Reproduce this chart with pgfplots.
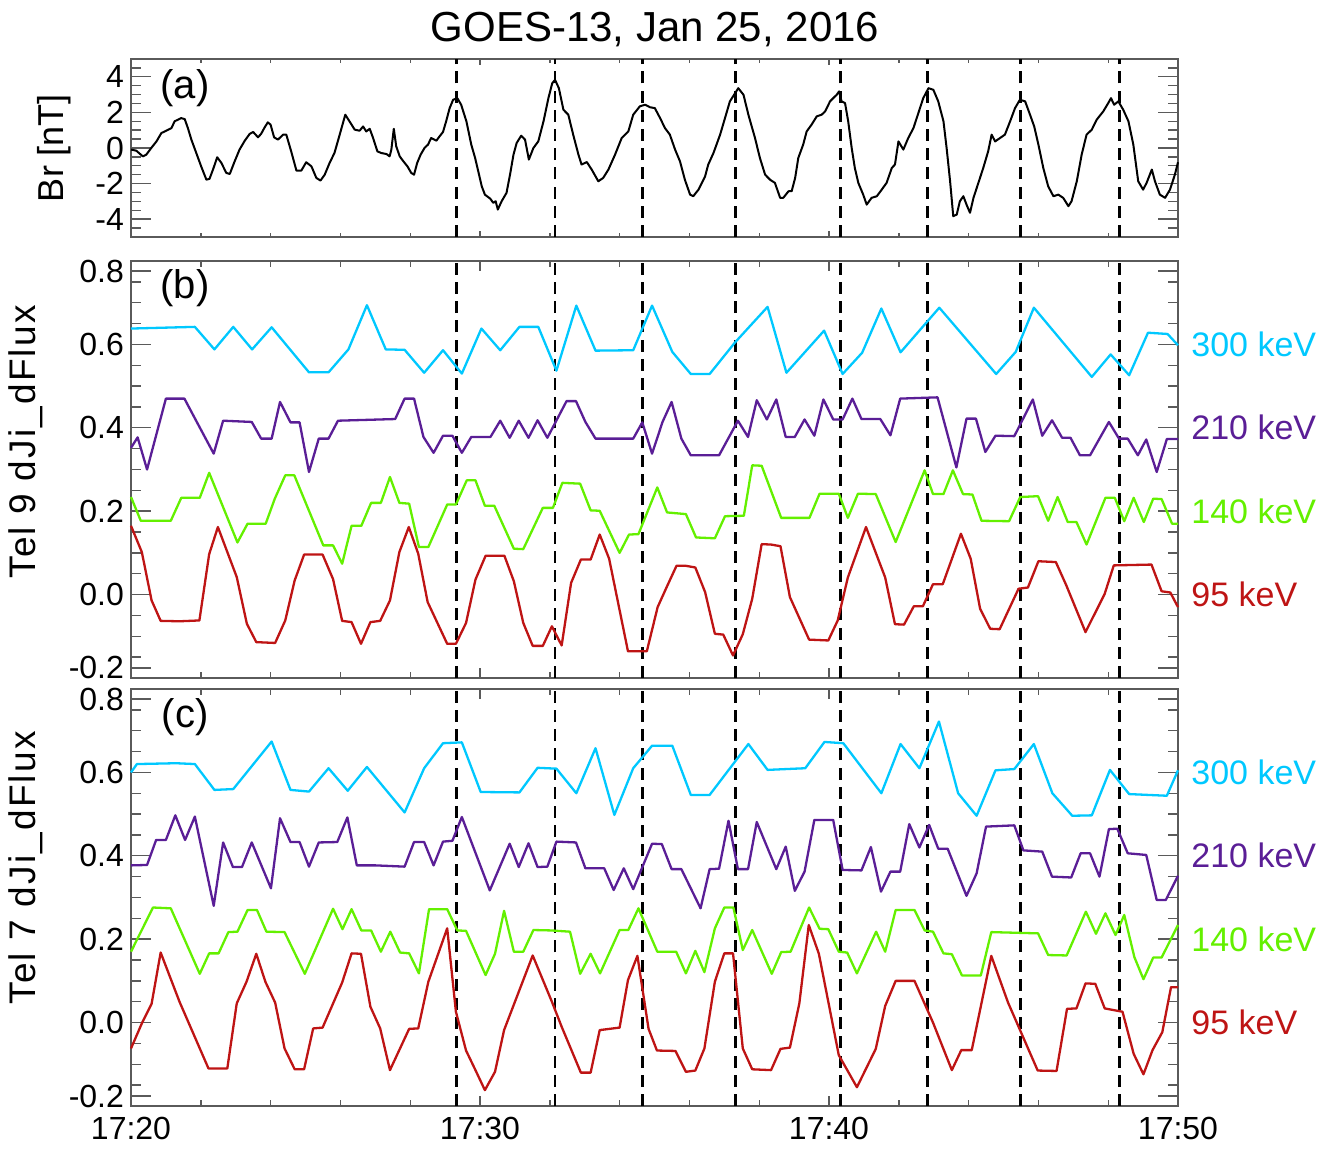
\documentclass[border=0pt]{standalone}
\usepackage{fontspec}
\setmainfont{Liberation Sans}
\usepackage{pgfplots}
\pgfplotsset{compat=1.18}
\definecolor{cA}{RGB}{0,200,255}
\definecolor{cB}{RGB}{90,30,150}
\definecolor{cC}{RGB}{100,240,0}
\definecolor{cD}{RGB}{190,20,20}
\definecolor{frm}{RGB}{90,90,90}
\newfontfamily\ylabfont[LetterSpace=6]{Liberation Sans}
\tikzset{
  lab/.style={anchor=west, inner sep=0pt, xshift=6.5pt, font=\fontsize{17}{20}\selectfont},
  plab/.style={font=\fontsize{20}{24}\selectfont},
}
\pgfplotsset{
  panel/.style={
    scale only axis, width=523.5pt, xmin=20, xmax=50,
    clip=false, anchor=north west,
    xtick={20,30,40,50}, minor x tick num=4,
    axis line style={frm, line width=0.7pt},
    tick style={frm, line width=0.7pt},
    xtick style={/pgfplots/major tick length=5pt,/pgfplots/minor tick length=3pt},
    ytick style={/pgfplots/major tick length=10pt,/pgfplots/minor tick length=5pt},
    tick label style={font=\fontsize{16}{19}\selectfont, text=black},
    xticklabels={},
  },
  flux/.style={
    panel, height=208.5pt, ymin=-0.2, ymax=0.8,
    ytick={-0.2,0,0.2,0.4,0.6,0.8}, minor y tick num=3,
    yticklabels={,0.0,0.2,0.4,0.6,},
    extra y ticks={-0.176,0.776}, extra y tick labels={-0.2,0.8},
    extra y tick style={/pgfplots/major tick length=0pt},
  },
  dl/.style={black, line width=1.4pt, dash pattern=on 6pt off 3.6pt},
  ser/.style={line width=1.15pt, line join=round, mark=none},
}
\newcommand{\vlines}[2]{%
  \addplot[dl] coordinates {(29.32,#1) (29.32,#2)};
  \addplot[dl] coordinates {(32.15,#1) (32.15,#2)};
  \addplot[dl] coordinates {(34.66,#1) (34.66,#2)};
  \addplot[dl] coordinates {(37.32,#1) (37.32,#2)};
  \addplot[dl] coordinates {(40.32,#1) (40.32,#2)};
  \addplot[dl] coordinates {(42.83,#1) (42.83,#2)};
  \addplot[dl] coordinates {(45.49,#1) (45.49,#2)};
  \addplot[dl] coordinates {(48.33,#1) (48.33,#2)};
}
\begin{document}
\begin{tikzpicture}
\path[use as bounding box] (0,0) rectangle (667pt,-577pt);
\node[font=\fontsize{21}{25}\selectfont, anchor=base] at (327.5pt,-21pt) {GOES-13, Jan 25, 2016};
\node[rotate=90, font=\fontsize{18}{20}\selectfont] at (27pt,-74pt) {Br [nT]};
\node[rotate=90, font=\ylabfont\fontsize{18.5}{20}\selectfont] at (13pt,-221pt) {Tel 9 dJi\_dFlux};
\node[rotate=90, font=\ylabfont\fontsize{18.5}{20}\selectfont] at (13pt,-434pt) {Tel 7 dJi\_dFlux};

% ---------------- panel (a)
\begin{axis}[panel, at={(65.5pt,-29.5pt)}, height=89pt, ymin=-5, ymax=5,
  ytick={-4,-2,0,2,4}, yticklabels={-4,-2,0,2,4},
  minor ytick={-4.5,-3.5,-3,-2.5,-1.5,-1,-0.5,0.5,1,1.5,2.5,3,3.5,4.5},
  xtick style={/pgfplots/major tick length=3pt,/pgfplots/minor tick length=2pt}]
\vlines{-5}{5}
\addplot[ser, black, line width=1.0pt] coordinates {
(20.00,-0.09)(20.15,-0.15)(20.34,-0.47)(20.44,-0.37)(20.58,0.00)(20.73,0.37)(20.87,0.84)(21.01,0.97)(21.16,1.12)(21.25,1.50)(21.44,1.68)(21.54,1.62)(21.63,1.12)(21.73,0.47)(21.87,-0.28)(22.01,-1.03)(22.16,-1.78)(22.25,-1.73)(22.35,-1.21)(22.47,-0.52)(22.59,-0.84)(22.73,-1.40)(22.83,-1.46)(22.97,-0.75)(23.11,-0.09)(23.26,0.41)(23.40,0.79)(23.50,0.90)(23.64,0.60)(23.73,0.80)(23.83,1.16)(23.92,1.44)(24.00,1.31)(24.10,0.60)(24.21,0.47)(24.36,0.75)(24.45,0.75)(24.59,-0.19)(24.74,-1.27)(24.88,-1.27)(25.02,-0.80)(25.17,-1.03)(25.31,-1.68)(25.43,-1.83)(25.55,-1.50)(25.69,-0.84)(25.83,-0.28)(25.98,0.75)(26.14,1.87)(26.26,1.50)(26.41,1.03)(26.55,0.97)(26.65,1.21)(26.74,0.93)(26.84,1.08)(26.93,0.60)(27.06,-0.19)(27.17,-0.28)(27.32,-0.34)(27.41,-0.47)(27.46,-0.09)(27.53,1.08)(27.60,0.09)(27.70,-0.47)(27.79,-0.71)(27.92,-1.03)(28.03,-1.40)(28.11,-1.50)(28.20,-0.84)(28.30,-0.37)(28.41,0.00)(28.51,0.19)(28.60,0.56)(28.75,0.41)(28.84,0.65)(28.94,0.90)(29.03,1.50)(29.13,2.24)(29.23,2.71)(29.35,2.80)(29.46,2.43)(29.61,1.50)(29.75,0.19)
(29.86,-0.56)(29.95,-1.31)(30.05,-2.15)(30.14,-2.62)(30.29,-2.84)(30.38,-3.08)(30.45,-2.99)(30.51,-3.46)(30.62,-2.99)(30.76,-2.52)(30.86,-1.50)(30.96,-0.37)(31.05,0.28)(31.18,0.69)(31.29,0.47)(31.40,-0.65)(31.53,0.00)(31.67,0.37)(31.82,1.50)(31.96,2.80)(32.07,3.64)(32.15,3.83)(32.26,3.36)(32.39,2.15)(32.53,1.87)(32.67,0.75)(32.82,-0.37)(32.91,-0.93)(33.06,-0.79)(33.20,-1.21)(33.39,-1.87)(33.53,-1.68)(33.68,-1.21)(33.87,-0.37)(34.06,0.56)(34.25,0.93)(34.39,1.87)(34.58,2.34)(34.73,2.43)(34.87,2.29)(35.01,2.24)(35.16,1.68)(35.30,1.12)(35.44,0.75)(35.59,-0.09)(35.73,-0.75)(35.87,-1.78)(36.02,-2.62)(36.11,-2.71)(36.26,-2.34)(36.45,-1.59)(36.54,-0.93)(36.69,-0.28)(36.88,0.75)(37.02,1.68)(37.16,2.62)(37.31,3.08)(37.40,3.36)(37.55,2.99)(37.69,1.87)(37.88,0.56)(38.02,-0.56)(38.17,-1.50)(38.31,-1.78)(38.45,-1.96)(38.60,-2.80)(38.69,-2.80)(38.84,-2.43)(38.93,-2.43)(39.03,-1.68)(39.12,-0.56)(39.26,0.19)(39.36,0.93)(39.50,1.31)(39.65,1.78)(39.79,1.87)(39.89,2.06)
(40.03,2.62)(40.12,2.80)(40.22,2.99)(40.29,3.18)(40.36,2.62)(40.46,2.52)(40.55,1.50)(40.65,0.00)(40.74,-1.12)(40.84,-1.96)(40.98,-2.62)(41.08,-3.18)(41.22,-2.80)(41.37,-2.71)(41.51,-2.34)(41.65,-1.96)(41.80,-1.12)(41.89,-0.93)(41.99,0.37)(42.13,-0.09)(42.27,0.56)(42.42,1.12)(42.56,1.96)(42.70,2.80)(42.85,3.36)(42.99,3.27)(43.13,2.62)(43.28,1.50)(43.37,0.00)(43.47,-1.87)(43.56,-3.83)(43.66,-3.74)(43.75,-2.99)(43.85,-2.71)(43.94,-3.18)(44.04,-3.64)(44.14,-2.80)(44.28,-1.96)(44.42,-1.12)(44.56,-0.19)(44.66,0.75)(44.76,0.37)(44.90,0.56)(45.04,0.75)(45.19,1.50)(45.33,2.24)(45.47,2.71)(45.62,2.62)(45.76,1.87)(45.88,1.21)(46.00,0.19)(46.14,-1.12)(46.28,-2.15)(46.43,-2.71)(46.57,-2.62)(46.71,-2.80)(46.86,-3.27)(46.95,-2.99)(47.10,-1.87)(47.24,-0.37)(47.38,0.75)(47.53,1.03)(47.67,1.59)(47.86,2.06)(48.00,2.52)(48.08,2.80)(48.17,2.43)(48.29,2.62)(48.43,2.15)(48.58,1.50)(48.72,0.19)(48.86,-1.87)(49.00,-2.34)(49.10,-1.96)(49.25,-1.21)(49.34,-1.87)(49.48,-2.62)(49.63,-2.80)(49.77,-2.34)(49.91,-1.50)(50.00,-0.80)
};
\node[plab] at (rel axis cs:0.0516,0.837) {(a)};
\end{axis}

% ---------------- panel (b)
\begin{axis}[flux, at={(65.5pt,-130.5pt)}]
\vlines{-0.2}{0.8}
\addplot[ser, cA] coordinates {
(20.00,0.638)(21.83,0.642)(22.39,0.588)(22.93,0.642)(23.47,0.588)(24.03,0.641)(25.10,0.533)(25.66,0.533)(26.23,0.588)(26.76,0.694)(27.30,0.588)(27.84,0.587)(28.40,0.532)(28.94,0.586)(29.48,0.530)(30.04,0.638)(30.58,0.586)(31.13,0.642)(31.67,0.642)(32.19,0.537)(32.76,0.693)(33.31,0.585)(34.39,0.586)(34.93,0.693)(35.51,0.582)(36.04,0.529)(36.58,0.529)(37.31,0.605)(38.24,0.690)(38.78,0.532)(39.86,0.633)(40.39,0.529)(40.95,0.580)(41.50,0.686)(42.05,0.581)(43.16,0.688)(44.79,0.529)(45.35,0.582)(45.87,0.688)(47.53,0.522)(48.07,0.576)(48.60,0.526)(49.14,0.628)(49.70,0.625)(50.00,0.598)
};
\addplot[ser, cB] coordinates {
(20.00,0.352)(20.19,0.377)(20.46,0.300)(21.00,0.470)(21.53,0.470)(21.86,0.418)(22.37,0.338)(22.64,0.417)(23.46,0.414)(23.73,0.374)(24.03,0.374)(24.27,0.462)(24.57,0.413)(24.83,0.413)(25.10,0.294)(25.38,0.374)(25.66,0.374)(25.93,0.417)(27.57,0.421)(27.84,0.470)(28.11,0.470)(28.38,0.378)(28.67,0.340)(28.94,0.381)(29.21,0.381)(29.48,0.340)(29.75,0.378)(30.30,0.378)(30.58,0.417)(30.85,0.376)(31.11,0.417)(31.39,0.376)(31.65,0.418)(31.93,0.376)(32.48,0.464)(32.75,0.464)(33.02,0.414)(33.31,0.374)(34.39,0.374)(34.65,0.413)(34.93,0.338)(35.23,0.414)(35.49,0.462)(35.77,0.374)(36.04,0.334)(36.85,0.334)(37.39,0.417)(37.68,0.378)(37.93,0.466)(38.22,0.420)(38.49,0.468)(38.76,0.378)(39.02,0.378)(39.30,0.420)(39.58,0.381)(39.84,0.468)(40.12,0.420)(40.39,0.420)(40.67,0.470)(40.93,0.421)(41.47,0.421)(41.76,0.382)(42.04,0.470)(43.11,0.473)(43.65,0.305)(43.94,0.422)(44.21,0.422)(44.48,0.342)(44.77,0.381)(45.31,0.380)(45.84,0.468)(46.11,0.381)(46.39,0.418)(46.68,0.376)(46.92,0.376)(47.19,0.334)(47.48,0.334)(48.02,0.414)(48.31,0.374)(48.56,0.374)(48.85,0.334)(49.09,0.372)(49.39,0.294)(49.68,0.373)(50.00,0.373)
};
\addplot[ser, cC] coordinates {
(20.00,0.234)(20.28,0.177)(21.14,0.177)(21.44,0.232)(21.97,0.232)(22.24,0.292)(23.05,0.125)(23.34,0.170)(23.86,0.170)(24.12,0.230)(24.42,0.286)(24.68,0.286)(25.51,0.118)(25.79,0.118)(26.05,0.074)(26.32,0.165)(26.60,0.165)(26.88,0.220)(27.16,0.220)(27.42,0.282)(27.69,0.220)(27.97,0.218)(28.25,0.114)(28.52,0.114)(29.06,0.216)(29.31,0.216)(29.62,0.274)(29.87,0.274)(30.14,0.213)(30.41,0.213)(30.97,0.110)(31.24,0.109)(31.80,0.208)(32.09,0.208)(32.36,0.268)(32.87,0.266)(33.17,0.202)(33.43,0.201)(34.00,0.100)(34.27,0.144)(34.54,0.145)(35.08,0.257)(35.36,0.197)(35.90,0.193)(36.19,0.137)(36.73,0.135)(37.02,0.188)(37.56,0.189)(37.80,0.310)(38.07,0.309)(38.63,0.184)(39.44,0.184)(39.73,0.242)(40.28,0.242)(40.54,0.184)(40.83,0.242)(41.34,0.241)(41.91,0.126)(42.74,0.298)(42.98,0.241)(43.28,0.241)(43.55,0.298)(43.84,0.241)(44.11,0.240)(44.37,0.177)(45.16,0.176)(45.48,0.234)(45.99,0.236)(46.28,0.177)(46.55,0.234)(46.84,0.174)(47.09,0.174)(47.38,0.120)(47.92,0.232)(48.19,0.232)(48.46,0.176)(48.73,0.232)(49.02,0.174)(49.29,0.230)(49.53,0.229)(49.83,0.170)(50.00,0.170)
};
\addplot[ser, cD] coordinates {
(20.00,0.165)(20.31,0.102)(20.59,-0.014)(20.85,-0.063)(21.39,-0.064)(21.96,-0.062)(22.24,0.097)(22.49,0.162)(23.03,0.042)(23.32,-0.070)(23.59,-0.114)(24.13,-0.116)(24.42,-0.062)(24.69,0.034)(24.96,0.096)(25.49,0.096)(25.79,0.037)(26.05,-0.063)(26.32,-0.066)(26.59,-0.118)(26.86,-0.066)(27.14,-0.063)(27.42,-0.014)(27.69,0.102)(27.96,0.162)(28.23,0.098)(28.50,-0.018)(29.06,-0.118)(29.31,-0.118)(29.60,-0.068)(29.87,0.036)(30.16,0.093)(30.70,0.093)(30.97,0.032)(31.24,-0.068)(31.51,-0.123)(31.80,-0.123)(32.06,-0.076)(32.34,-0.122)(32.61,0.028)(32.89,0.084)(33.17,0.084)(33.43,0.144)(33.70,0.086)(34.24,-0.136)(34.78,-0.136)(35.09,-0.030)(35.36,0.020)(35.63,0.069)(35.90,0.069)(36.17,0.065)(36.45,0.006)(36.73,-0.094)(36.97,-0.096)(37.25,-0.146)(37.53,-0.095)(37.80,-0.010)(38.07,0.121)(38.34,0.120)(38.61,0.116)(38.88,-0.006)(39.43,-0.108)(39.98,-0.110)(40.25,-0.062)(40.54,0.041)(41.06,0.162)(41.61,0.041)(41.89,-0.071)(42.15,-0.072)(42.43,-0.028)(42.69,-0.028)(42.98,0.025)(43.26,0.025)(43.78,0.146)(44.06,0.086)(44.33,-0.034)(44.62,-0.082)(44.89,-0.083)(45.43,0.014)(45.70,0.017)(46.00,0.080)(46.50,0.078)(46.80,0.022)(47.35,-0.090)(47.90,0.002)(48.16,0.070)(49.24,0.072)(49.53,0.008)(49.78,0.005)(50.00,-0.030)
};
\node[plab] at (rel axis cs:0.0516,0.935) {(b)};
\node[lab, text=cA] at (axis cs:50,0.6) {300 keV};
\node[lab, text=cB] at (axis cs:50,0.4) {210 keV};
\node[lab, text=cC] at (axis cs:50,0.2) {140 keV};
\node[lab, text=cD] at (axis cs:50,0.0) {95 keV};
\end{axis}

% ---------------- panel (c)
\begin{axis}[flux, at={(65.5pt,-344.5pt)},
  xticklabels={17:20,17:30,17:40,17:50},
  xticklabel style={yshift=-2pt}]
\vlines{-0.2}{0.8}
\addplot[ser, cA] coordinates {
(20.00,0.600)(20.17,0.620)(21.29,0.622)(21.83,0.620)(22.39,0.558)(22.93,0.560)(24.03,0.674)(24.57,0.558)(25.10,0.554)(25.66,0.610)(26.21,0.556)(26.76,0.613)(27.84,0.504)(28.40,0.610)(28.94,0.670)(29.48,0.672)(30.02,0.553)(31.13,0.552)(31.65,0.611)(32.19,0.609)(32.76,0.550)(33.31,0.658)(33.85,0.498)(34.39,0.610)(34.93,0.664)(35.51,0.664)(36.04,0.546)(36.58,0.546)(37.69,0.668)(38.24,0.606)(39.32,0.610)(39.87,0.673)(40.41,0.670)(41.50,0.550)(42.05,0.668)(42.59,0.610)(43.15,0.722)(43.70,0.550)(44.23,0.496)(44.77,0.605)(45.31,0.608)(45.87,0.668)(46.40,0.550)(46.97,0.496)(47.53,0.497)(48.05,0.606)(48.60,0.548)(49.68,0.544)(50.00,0.605)
};
\addplot[ser, cB] coordinates {
(20.00,0.377)(20.46,0.378)(20.72,0.438)(21.00,0.438)(21.27,0.497)(21.55,0.438)(21.83,0.494)(22.37,0.280)(22.64,0.432)(22.92,0.373)(23.18,0.373)(23.46,0.432)(24.01,0.322)(24.27,0.490)(24.57,0.433)(24.83,0.433)(25.10,0.374)(25.38,0.432)(25.91,0.433)(26.20,0.492)(26.47,0.377)(27.01,0.377)(27.84,0.374)(28.11,0.433)(28.40,0.433)(28.67,0.377)(28.94,0.434)(29.21,0.436)(29.48,0.493)(30.28,0.317)(30.85,0.429)(31.11,0.373)(31.39,0.430)(31.65,0.373)(31.93,0.374)(32.19,0.434)(32.75,0.432)(33.02,0.370)(33.56,0.370)(33.83,0.318)(34.12,0.370)(34.39,0.320)(34.93,0.429)(35.21,0.428)(35.49,0.368)(35.77,0.368)(36.32,0.274)(36.58,0.368)(36.85,0.369)(37.12,0.484)(37.39,0.368)(37.68,0.368)(37.93,0.481)(38.49,0.368)(38.76,0.422)(39.02,0.316)(39.30,0.362)(39.58,0.486)(40.12,0.486)(40.39,0.366)(40.93,0.365)(41.20,0.421)(41.49,0.314)(41.76,0.362)(42.04,0.362)(42.30,0.476)(42.59,0.420)(42.87,0.474)(43.13,0.417)(43.40,0.417)(43.94,0.304)(44.23,0.358)(44.50,0.470)(45.31,0.473)(45.57,0.413)(46.11,0.410)(46.39,0.350)(46.94,0.348)(47.21,0.406)(47.48,0.406)(47.75,0.350)(48.02,0.464)(48.26,0.465)(48.56,0.406)(49.09,0.402)(49.39,0.294)(49.65,0.294)(50.00,0.352)
};
\addplot[ser, cC] coordinates {
(20.00,0.170)(20.63,0.276)(21.14,0.274)(21.97,0.117)(22.24,0.166)(22.51,0.166)(22.79,0.217)(23.05,0.218)(23.34,0.270)(23.61,0.270)(23.88,0.218)(24.40,0.217)(24.98,0.117)(25.79,0.273)(26.06,0.224)(26.32,0.272)(26.60,0.221)(26.88,0.221)(27.16,0.170)(27.43,0.218)(27.71,0.168)(27.97,0.166)(28.25,0.118)(28.54,0.272)(29.06,0.272)(29.35,0.221)(29.60,0.220)(30.16,0.114)(30.43,0.165)(30.69,0.268)(30.97,0.170)(31.24,0.170)(31.53,0.222)(32.04,0.221)(32.58,0.218)(32.87,0.117)(33.17,0.165)(33.44,0.118)(34.00,0.222)(34.25,0.222)(34.54,0.274)(35.08,0.170)(35.62,0.170)(35.90,0.118)(36.17,0.172)(36.43,0.121)(36.73,0.226)(37.00,0.276)(37.26,0.276)(37.53,0.174)(37.80,0.222)(38.36,0.117)(38.63,0.169)(38.90,0.170)(39.43,0.276)(39.73,0.225)(39.98,0.224)(40.28,0.170)(40.52,0.168)(40.80,0.118)(41.35,0.218)(41.61,0.170)(41.91,0.270)(42.45,0.270)(42.74,0.221)(42.98,0.218)(43.28,0.166)(43.52,0.164)(43.81,0.113)(44.35,0.113)(44.65,0.217)(45.99,0.214)(46.28,0.162)(46.81,0.161)(47.36,0.266)(47.65,0.213)(47.92,0.262)(48.21,0.210)(48.46,0.258)(48.75,0.157)(49.01,0.104)(49.29,0.156)(49.53,0.156)(50.00,0.234)
};
\addplot[ser, cD] coordinates {
(20.00,-0.062)(20.31,-0.002)(20.59,0.045)(20.85,0.168)(21.39,0.050)(22.22,-0.110)(22.76,-0.110)(23.03,0.046)(23.31,0.098)(23.59,0.165)(23.85,0.098)(24.13,0.048)(24.40,-0.062)(24.69,-0.112)(24.96,-0.112)(25.22,-0.014)(25.49,-0.012)(26.05,0.096)(26.32,0.166)(26.59,0.165)(26.86,0.038)(27.14,-0.014)(27.42,-0.114)(27.97,-0.015)(28.23,-0.014)(28.52,0.098)(29.06,0.226)(29.31,0.026)(29.60,-0.067)(29.87,-0.114)(30.14,-0.162)(30.43,-0.118)(30.69,-0.018)(31.51,0.161)(32.06,0.050)(32.34,-0.010)(32.89,-0.120)(33.17,-0.120)(33.43,-0.018)(34.00,-0.012)(34.24,0.102)(34.51,0.160)(34.83,-0.015)(35.07,-0.067)(35.60,-0.068)(35.90,-0.118)(36.17,-0.115)(36.43,-0.062)(36.73,0.098)(37.00,0.166)(37.25,0.166)(37.53,-0.062)(37.80,-0.112)(38.34,-0.114)(38.61,-0.063)(38.88,-0.060)(39.15,0.046)(39.42,0.234)(39.71,0.165)(40.28,-0.078)(40.80,-0.155)(41.34,-0.063)(41.61,0.040)(41.91,0.100)(42.45,0.100)(42.98,0.000)(43.52,-0.114)(43.79,-0.066)(44.09,-0.066)(44.65,0.160)(45.13,0.048)(45.98,-0.115)(46.52,-0.116)(46.82,0.033)(47.09,0.034)(47.35,0.094)(47.63,0.093)(47.90,0.034)(48.41,0.026)(48.73,-0.075)(49.01,-0.124)(49.27,-0.066)(49.55,-0.023)(49.80,0.085)(50.00,0.085)
};
\node[plab] at (rel axis cs:0.0516,0.933) {(c)};
\node[lab, text=cA] at (axis cs:50,0.6) {300 keV};
\node[lab, text=cB] at (axis cs:50,0.4) {210 keV};
\node[lab, text=cC] at (axis cs:50,0.2) {140 keV};
\node[lab, text=cD] at (axis cs:50,0.0) {95 keV};
\end{axis}
\end{tikzpicture}
\end{document}
